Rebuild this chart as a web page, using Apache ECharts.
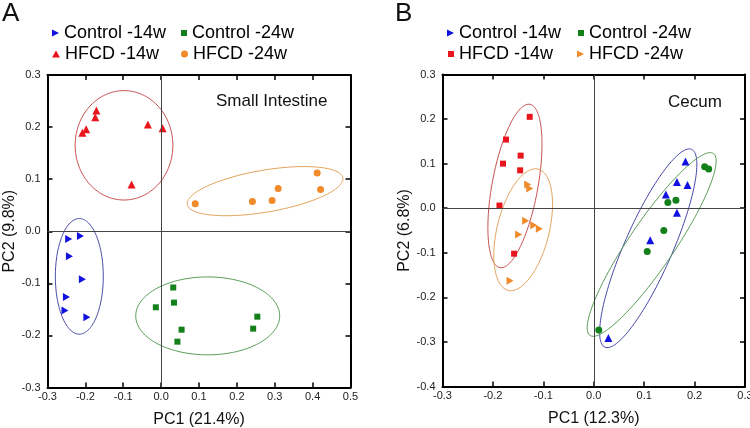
<!DOCTYPE html>
<html>
<head>
<meta charset="utf-8">
<script src="https://cdn.jsdelivr.net/npm/echarts@6/dist/echarts.min.js"></script>
<style>html,body{margin:0;padding:0;background:#fff;}#c{width:750px;height:428px;}</style>
</head>
<body>
<div id="c"></div>
<script>
// ---------- DATA ----------
// Panel A (Small Intestine): [PC1, PC2]
const a_control14 = [[-0.244,-0.015],[-0.213,-0.009],[-0.242,-0.048],[-0.208,-0.092],[-0.250,-0.126],[-0.254,-0.152],[-0.196,-0.165]];
const a_hfcd14    = [[-0.208,0.189],[-0.198,0.196],[-0.174,0.219],[-0.171,0.232],[-0.035,0.205],[0.004,0.198],[-0.078,0.090]];
const a_control24 = [[0.032,-0.108],[0.034,-0.137],[-0.014,-0.146],[0.054,-0.189],[0.043,-0.212],[0.254,-0.164],[0.243,-0.187]];
const a_hfcd24    = [[0.090,0.053],[0.241,0.057],[0.293,0.059],[0.309,0.082],[0.412,0.112],[0.421,0.080]];
// Panel B (Cecum)
const b_control14 = [[0.182,0.105],[0.165,0.059],[0.186,0.052],[0.143,0.031],[0.165,-0.010],[0.112,-0.072],[0.029,-0.291]];
const b_hfcd14    = [[-0.127,0.205],[-0.174,0.154],[-0.145,0.118],[-0.180,0.100],[-0.146,0.085],[-0.187,0.006],[-0.158,-0.102]];
const b_control24 = [[0.220,0.093],[0.228,0.088],[0.147,0.013],[0.163,0.018],[0.139,-0.050],[0.106,-0.097],[0.010,-0.273]];
const b_hfcd24    = [[-0.131,0.053],[-0.127,0.044],[-0.135,-0.028],[-0.119,-0.038],[-0.108,-0.046],[-0.149,-0.059],[-0.166,-0.163]];
// Confidence ellipses: [centerPC1, centerPC2, u1, u2, v1, v2] (conjugate semi-axes)
const ell_a_control14 = [-0.216,-0.0866, 0.0633,0, 0,0.111];
const ell_a_hfcd14    = [-0.098,0.165, 0.129,0, 0,0.105];
const ell_a_control24 = [0.123,-0.1625, 0.190,0, 0,0.0748];
const ell_a_hfcd24    = [0.2745,0.077, 0.2054,0.0255, 0.0093,-0.0397];
const ell_b_hfcd14    = [-0.1563,0.0499, 0.0297,0.1832, 0.0447,-0.0093];
const ell_b_hfcd24    = [-0.140,-0.0483, 0.0297,0.136, 0.0501,-0.0140];
const ell_b_control14 = [0.1081,-0.0899, 0.0860,0.2219, 0.0436,-0.0217];
const ell_b_control24 = [0.1149,-0.0813, 0.1224,0.2041, 0.0371,-0.0285];
// Axes
const a_xRange = [-0.3, 0.5];
const a_yRange = [-0.3, 0.3];
const b_xRange = [-0.3, 0.3];
const b_yRange = [-0.4, 0.3];
const tickStep = 0.1;
const names = ['Control -14w','HFCD -14w','Control -24w','HFCD -24w'];

// ---------- STYLE ----------
const FONT = 'Liberation Sans, Arial, Helvetica, sans-serif';
const C = {blue:'#1212e0', red:'#e8161c', green:'#13801a', orange:'#f08a2a'};
const EC = {blue:'#4848a8', red:'#c85050', green:'#5a9c5a', orange:'#e4a35a'};
const RIGHT_TRI = 'path://M0,0L10,5L0,10Z';

function fmt(v){ return (Math.round(v*10)/10).toFixed(1); }

function axisPair(gridIndex, range, dir, name, nameGap){
  const common = {
    gridIndex, type:'value', min:range[0], max:range[1], interval:tickStep,
    splitLine:{show:false},
    axisLine:{show:true, onZero:false, lineStyle:{color:'#000', width:2}},
    axisTick:{show:true, inside:true, length:5, lineStyle:{color:'#000', width:1.5}}
  };
  const main = Object.assign({}, common, {
    position: dir==='x' ? 'bottom' : 'left',
    name, nameLocation:'middle', nameGap,
    nameTextStyle:{fontFamily:FONT, fontSize:16, color:'#111'},
    axisLabel:{show:true, formatter:fmt, fontFamily:FONT, fontSize:11, color:'#222', margin: dir==='x'?4:7}
  });
  const opp = Object.assign({}, common, {
    position: dir==='x' ? 'top' : 'right',
    axisLabel:{show:false}
  });
  return [main, opp];
}

function ellipseSeries(arr, color, xi, yi){
  return {
    type:'custom', xAxisIndex:xi, yAxisIndex:yi, silent:true, clip:false, z:1,
    data:[arr], encode:{x:0, y:1},
    renderItem:function(params, api){
      const cx=api.value(0), cy=api.value(1), ux=api.value(2), uy=api.value(3), vx=api.value(4), vy=api.value(5);
      const pts=[];
      for(let i=0;i<144;i++){
        const t=i/144*Math.PI*2;
        pts.push(api.coord([cx+ux*Math.cos(t)+vx*Math.sin(t), cy+uy*Math.cos(t)+vy*Math.sin(t)]));
      }
      return {type:'polygon', shape:{points:pts}, style:{fill:'none', stroke:color, lineWidth:1}};
    }
  };
}

function scatter(name, data, color, symbol, size, xi, yi, extra){
  return Object.assign({
    type:'scatter', name, data, xAxisIndex:xi, yAxisIndex:yi, z:3,
    symbol, symbolSize:size, itemStyle:{color, opacity:1}
  }, extra||{});
}

const zeroLines = {
  silent:true, symbol:'none', label:{show:false}, animation:false,
  lineStyle:{color:'#444', width:1, type:'solid'},
  emphasis:{disabled:true},
  data:[{xAxis:0},{yAxis:0}]
};

const xA = axisPair(0, a_xRange, 'x', 'PC1 (21.4%)', 24);
const xB = axisPair(1, b_xRange, 'x', 'PC1 (12.3%)', 24);
const yA = axisPair(0, a_yRange, 'y', 'PC2 (9.8%)', 22);
const yB = axisPair(1, b_yRange, 'y', 'PC2 (6.8%)', 29);

function legendItem(name, icon, left, top, w, h){
  return {
    data:[{name, icon}], left, top, padding:0, itemWidth:w, itemHeight:h, itemGap:0,
    selectedMode:false, orient:'horizontal',
    textStyle:{fontFamily:FONT, fontSize:18, color:'#000', padding:[0,0,0,0]}
  };
}

const option = {
  animation:false,
  backgroundColor:'#fff',
  title:[
    {text:'A', left:2, top:1, padding:0, textStyle:{fontFamily:FONT, fontSize:26, fontWeight:'normal', color:'#111'}},
    {text:'B', left:395, top:1, padding:0, textStyle:{fontFamily:FONT, fontSize:26, fontWeight:'normal', color:'#111'}},
    {text:'Small Intestine', left:216, top:93, padding:0, textStyle:{fontFamily:FONT, fontSize:17, fontWeight:'normal', color:'#111'}},
    {text:'Cecum', left:668, top:94, padding:0, textStyle:{fontFamily:FONT, fontSize:17, fontWeight:'normal', color:'#111'}}
  ],
  legend:[
    legendItem(names[0], RIGHT_TRI, 52, 24, 7, 8),
    legendItem(names[1], 'triangle', 52, 45, 8, 7),
    legendItem(names[2], 'rect', 181, 24, 6, 6),
    legendItem(names[3], 'circle', 181, 45, 7, 7),
    legendItem(names[0], RIGHT_TRI, 447, 24, 7, 8),
    legendItem(names[1], 'rect', 448, 45, 6, 6),
    legendItem(names[2], 'rect', 578, 24, 6, 6),
    legendItem(names[3], RIGHT_TRI, 577, 45, 7, 8)
  ],
  grid:[
    {left:47.5, top:75, width:303, height:312.5, outerBoundsMode:'none', containLabel:false},
    {left:442.5, top:74.5, width:302.5, height:312, outerBoundsMode:'none', containLabel:false}
  ],
  xAxis:[xA[0], xA[1], xB[0], xB[1]],
  yAxis:[yA[0], yA[1], yB[0], yB[1]],
  series:[
    ellipseSeries(ell_a_control14, EC.blue, 0, 0),
    ellipseSeries(ell_a_hfcd14, EC.red, 0, 0),
    ellipseSeries(ell_a_control24, EC.green, 0, 0),
    ellipseSeries(ell_a_hfcd24, EC.orange, 0, 0),
    scatter(names[0], a_control14, C.blue, RIGHT_TRI, [7,8], 0, 0, {markLine:zeroLines}),
    scatter(names[1], a_hfcd14, C.red, 'triangle', [8,8], 0, 0),
    scatter(names[2], a_control24, C.green, 'rect', 6, 0, 0),
    scatter(names[3], a_hfcd24, C.orange, 'circle', 7, 0, 0),
    ellipseSeries(ell_b_control14, EC.blue, 2, 2),
    ellipseSeries(ell_b_hfcd14, EC.red, 2, 2),
    ellipseSeries(ell_b_control24, EC.green, 2, 2),
    ellipseSeries(ell_b_hfcd24, EC.orange, 2, 2),
    scatter(names[0], b_control14, C.blue, 'triangle', [8,8], 2, 2, {markLine:zeroLines}),
    scatter(names[1], b_hfcd14, C.red, 'rect', 6, 2, 2),
    scatter(names[2], b_control24, C.green, 'circle', 7, 2, 2),
    scatter(names[3], b_hfcd24, C.orange, RIGHT_TRI, [7,8], 2, 2)
  ]
};

const chart = echarts.init(document.getElementById('c'), null, {renderer:'canvas'});
chart.setOption(option);
</script>
</body>
</html>
